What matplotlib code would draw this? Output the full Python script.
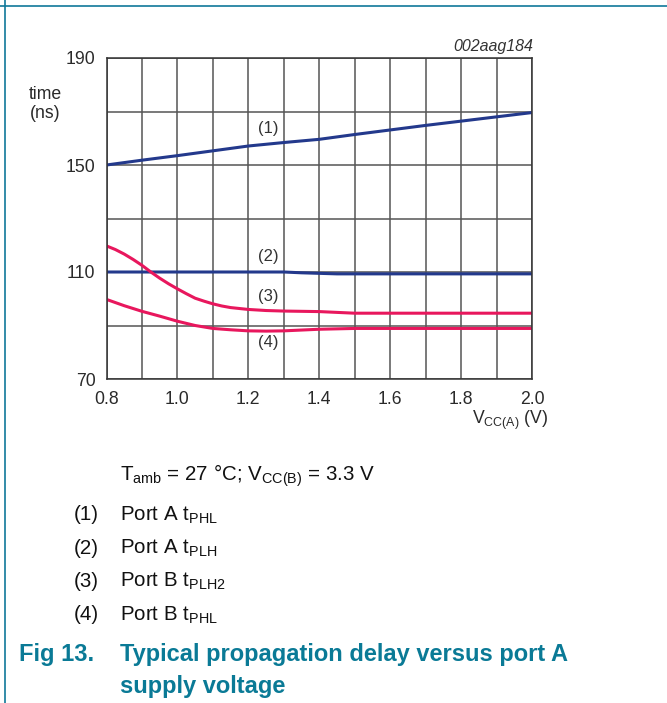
import numpy as np
import matplotlib.pyplot as plt
from matplotlib.lines import Line2D

plt.rcParams['font.family'] = ['Liberation Sans', 'DejaVu Sans']
plt.rcParams['mathtext.fontset'] = 'custom'
plt.rcParams['mathtext.rm'] = 'Liberation Sans'
plt.rcParams['mathtext.it'] = 'Liberation Sans:italic'

# supply voltage V_CC(A) (V) and propagation delays (ns)
vcc_1 = [0.8, 0.9, 1.0, 1.1, 1.2, 1.3, 1.4, 1.5, 1.6, 1.7, 1.8, 1.9, 2.0]
port_a_tphl = [150, 151.8, 153.5, 155.3, 157.1, 158.4, 159.6, 161.4, 163.1, 164.8, 166.4, 168.0, 169.6]

vcc_2 = [0.8, 1.0, 1.2, 1.3, 1.35, 1.4, 1.45, 1.5, 1.7, 2.0]
port_a_tplh = [110, 110, 110, 110, 109.7, 109.5, 109.3, 109.3, 109.3, 109.3]

vcc_3 = [0.8, 0.825, 0.85, 0.875, 0.9, 0.925, 0.95, 0.975, 1.0, 1.025, 1.05, 1.075,
         1.1, 1.125, 1.15, 1.2, 1.25, 1.3, 1.4, 1.45, 1.5, 1.7, 2.0]
port_b_tplh2 = [119.75, 118.4, 116.7, 114.7, 112.5, 110.0, 107.7, 105.6, 103.7, 101.9, 100.2, 99.1,
                98.1, 97.3, 96.7, 96.0, 95.6, 95.4, 95.2, 94.9, 94.6, 94.6, 94.6]

vcc_4 = [0.8, 0.85, 0.9, 0.95, 1.0, 1.05, 1.1, 1.15, 1.2, 1.25, 1.3, 1.35, 1.4, 1.5, 1.7, 2.0]
port_b_tphl = [99.75, 97.4, 95.3, 93.5, 91.6, 90.0, 88.9, 88.4, 88.0, 87.9, 88.0, 88.3, 88.6,
               88.9, 88.9, 88.9]

xticks = [0.8, 1.0, 1.2, 1.4, 1.6, 1.8, 2.0]
yticks = [70, 110, 150, 190]

W, H = 667, 703
fig = plt.figure(figsize=(W / 100, H / 100), dpi=100)

def fx(px):
    return px / W

def fy(py):
    return 1 - py / H

teal = '#10789a'
fig.add_artist(Line2D([fx(5), fx(5)], [0, 1], color=teal, lw=1.2))
fig.add_artist(Line2D([0, 1], [fy(6), fy(6)], color=teal, lw=1.2))

ax = fig.add_axes([fx(106.5), fy(379), fx(532) - fx(106.5), fy(58) - fy(379)])
ax.set_xlim(0.8, 2.0)
ax.set_ylim(70, 190)
ax.set_xticks(np.arange(0.8, 2.01, 0.1), minor=True)
ax.set_yticks(np.arange(70, 191, 20), minor=True)
ax.set_xticks(xticks)
ax.set_xticklabels(['%.1f' % v for v in xticks])
ax.set_yticks(yticks)
ax.grid(True, which='both', color='#555555', lw=1.1)
ax.tick_params(which='both', length=0, labelsize=12.7, colors='#2a2a2a')
ax.tick_params(axis='x', pad=8.5)
ax.tick_params(axis='y', pad=8)
for s in ax.spines.values():
    s.set_color('#333333')
    s.set_linewidth(1.1)

blue = '#23398c'
pink = '#e8175d'
ax.plot(vcc_1, port_a_tphl, color=blue, lw=2.2)
ax.plot(vcc_2, port_a_tplh, color=blue, lw=2.2)
ax.plot(vcc_3, port_b_tplh2, color=pink, lw=2.2)
ax.plot(vcc_4, port_b_tphl, color=pink, lw=2.2)

lbl = dict(fontsize=12, color='#333333', ha='center', va='center')
fig.text(fx(268), fy(129), '(1)', **lbl)
fig.text(fx(268), fy(257), '(2)', **lbl)
fig.text(fx(268), fy(297), '(3)', **lbl)
fig.text(fx(268), fy(343), '(4)', **lbl)

fig.text(fx(533), fy(46), '002aag184', fontsize=11.5, style='italic', color='#333333',
         ha='right', va='center')
fig.text(fx(45), fy(104), 'time\n(ns)', fontsize=12.7, color='#2a2a2a', ha='center',
         va='center', linespacing=1.15)
fig.text(fx(548), fy(420), r'$\mathregular{V_{CC(A)}}$ (V)', fontsize=12.7, color='#2a2a2a',
         ha='right', va='center')

txt = dict(fontsize=14.8, color='#111111', va='center')
fig.text(fx(120), fy(476), r'$\mathregular{T_{amb}}$ = 27 °C; $\mathregular{V_{CC(B)}}$ = 3.3 V', **txt)
items = [('(1)', r'Port A $\mathregular{t_{PHL}}$'),
         ('(2)', r'Port A $\mathregular{t_{PLH}}$'),
         ('(3)', r'Port B $\mathregular{t_{PLH2}}$'),
         ('(4)', r'Port B $\mathregular{t_{PHL}}$')]
for i, (n, s) in enumerate(items):
    y = 515 + i * 33.3
    fig.text(fx(74), fy(y), n, **txt)
    fig.text(fx(120), fy(y), s, **txt)

cap = dict(fontsize=17, color='#0a7a96', fontweight='bold', va='center')
fig.text(fx(19), fy(655), 'Fig 13.', **cap)
fig.text(fx(120), fy(655), 'Typical propagation delay versus port A', **cap)
fig.text(fx(120), fy(687), 'supply voltage', **cap)

fig.savefig('out.png', dpi=100)
